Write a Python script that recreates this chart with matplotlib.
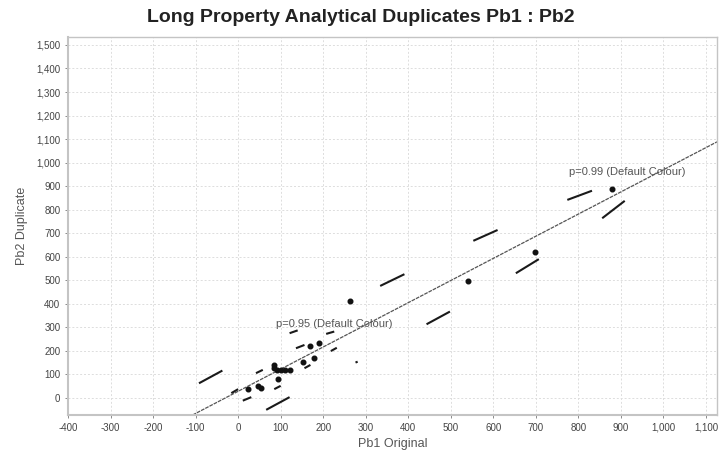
import matplotlib.pyplot as plt
from matplotlib.ticker import FuncFormatter, MultipleLocator

plt.rcParams["font.family"] = ["Liberation Sans", "DejaVu Sans"]

# Pb duplicate pairs (original vs duplicate)
pb1_original = [23, 46, 53, 84, 85, 93, 92, 101, 111, 121, 152, 170, 179, 191, 262, 541, 698, 878]
pb2_duplicate = [36, 50, 40, 125, 139, 78, 118, 118, 118, 118, 153, 220, 170, 231, 411, 497, 618, 886]

# regression line end points
fit_x = [-107, 1126]
fit_y = [-74, 1088]

# precision band dashes (x0, y0, x1, y1)
band_segments = [
    (-92, 61, -37, 115), (334, 475, 391, 525), (553, 667, 610, 713), (774, 841, 832, 880),
    (66, -52, 121, 2), (443, 312, 498, 366), (653, 529, 707, 589), (856, 763, 909, 837),
    (-16, 19, 0, 36), (11, -13, 31, 2), (42, 104, 58, 118), (85, 36, 100, 50),
    (121, 274, 140, 286), (136, 210, 156, 224), (156, 125, 170, 139),
    (207, 271, 226, 281), (218, 198, 232, 212), (276, 149, 281, 153),
]

labels = [(90, 313, "p=0.95 (Default Colour)"), (778, 959, "p=0.99 (Default Colour)")]

fig = plt.figure(figsize=(7.21, 4.55), dpi=100)
ax = fig.add_axes([0.0943, 0.0879, 0.9002, 0.8308])

ax.grid(True, color="#dddddd", linestyle=(0, (2, 2)), linewidth=0.7)
ax.set_axisbelow(True)

ax.plot(fit_x, fit_y, color="#555555", linewidth=0.9, linestyle=(0, (3, 0.8)))

for x0, y0, x1, y1 in band_segments:
    ax.plot([x0, x1], [y0, y1], color="#1a1a1a", linewidth=1.5, solid_capstyle="butt")

ax.scatter(pb1_original, pb2_duplicate, s=11, color="#111111", zorder=3)

for x, y, txt in labels:
    ax.text(x, y, txt, fontsize=8, color="#555555", va="center", ha="left")

ax.set_xlim(-400, 1126)
ax.set_ylim(-74, 1534)
ax.xaxis.set_major_locator(MultipleLocator(100))
ax.set_yticks(range(0, 1501, 100))
fmt = FuncFormatter(lambda v, p: f"{int(v):,}")
ax.xaxis.set_major_formatter(fmt)
ax.yaxis.set_major_formatter(fmt)
ax.tick_params(labelsize=7, colors="#777777", length=2, width=0.6, labelcolor="#444444")

for s in ax.spines.values():
    s.set_color("#c4c4c4")
    s.set_linewidth(1.0)
ax.spines["left"].set_linewidth(1.5)
ax.spines["bottom"].set_linewidth(1.5)

ax.set_xlabel("Pb1 Original", fontsize=9, color="#555555", labelpad=4)
ax.set_ylabel("Pb2 Duplicate", fontsize=9, color="#555555", labelpad=6)
fig.suptitle("Long Property Analytical Duplicates Pb1 : Pb2", fontsize=14, fontweight="bold",
             color="#222222", x=0.5, y=0.98)

fig.savefig("out.png", dpi=100)
